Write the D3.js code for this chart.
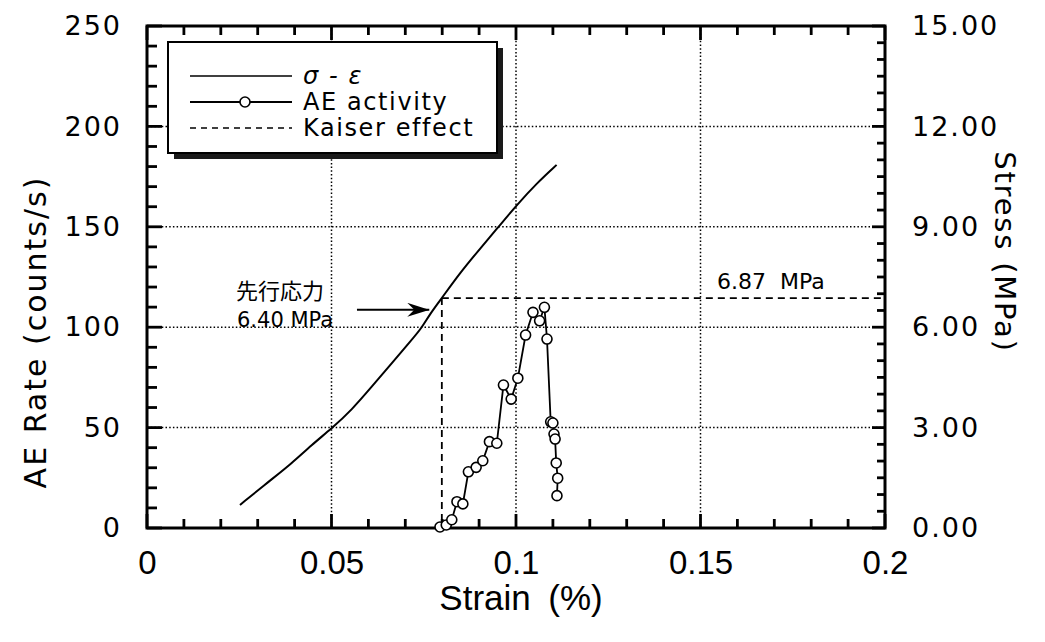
<!DOCTYPE html>
<html><head><meta charset="utf-8">
<script src="https://cdn.jsdelivr.net/npm/d3@7"></script>
<style>
html,body{margin:0;padding:0;background:#fff;}
svg{display:block;}
text{fill:#000;}
</style></head>
<body><svg id="c" width="1045" height="642"></svg>
<script>
// ---- data ----
const stressStrain = [0.0252,0.0329,0.0392,0.0446,0.0501,0.0555,0.0609,0.0663,0.0717,0.0744,0.0767,0.0799,0.0848,0.0902,0.0952,0.1002,0.1056,0.1110];
const stressValues = [0.69,1.38,1.93,2.48,2.98,3.53,4.22,4.92,5.62,5.97,6.40,6.87,7.62,8.34,8.99,9.65,10.30,10.85];
const aeStrain = [0.0794,0.0811,0.0826,0.0840,0.0856,0.0871,0.0892,0.0910,0.0928,0.0948,0.0966,0.0987,0.1005,0.1026,0.1046,0.1064,0.1077,0.1084,0.1094,0.1100,0.1103,0.1106,0.1109,0.1113,0.1111];
const aeRate = [0.5,1.5,4.1,13.1,12.0,28.0,30.2,33.5,43.0,42.2,71.2,64.2,74.6,96.1,107.4,103.2,109.9,94.1,52.9,52.3,46.8,44.3,32.4,24.8,16.1];
const xTicks = [0,0.05,0.1,0.15,0.2];
const xTickLabels = ["0","0.05","0.1","0.15","0.2"];
const leftTicks = [0,50,100,150,200,250];
const rightTicks = [0,3,6,9,12,15];
const rightTickLabels = ["0.00","3.00","6.00","9.00","12.00","15.00"];
const kaiserStrain = 0.0799, kaiserStress = 6.87;
const preStress = 6.40, preArrowFrom = 0.0569, preArrowTo = 0.0765;

// ---- layout ----
const L=147, T=26, R=885, B=528;
const svg = d3.select("#c");
const x = d3.scaleLinear().domain([0,0.2]).range([L,R]);
const yL = d3.scaleLinear().domain([0,250]).range([B,T]);
const yR = d3.scaleLinear().domain([0,15]).range([B,T]);

// gridlines
const grid = svg.append("g").attr("stroke","#000").attr("stroke-width",1.5).attr("stroke-dasharray","1.5,2.2");
[0.05,0.1,0.15].forEach(v=>grid.append("line").attr("x1",x(v)).attr("x2",x(v)).attr("y1",T).attr("y2",B));
[50,100,150,200].forEach(v=>grid.append("line").attr("y1",yL(v)).attr("y2",yL(v)).attr("x1",L).attr("x2",R));

// ticks (inward), drawn from the scales
const isMajor = (arr,d)=>arr.some(m=>Math.abs(m-d)<1e-9);
const xMinor = d3.range(0,21).map(i=>i/100);
const lMinor = d3.range(0,26).map(i=>i*10);
const rMinor = d3.range(0,31).map(i=>i*0.5);
const tk = svg.append("g").attr("stroke","#000").attr("stroke-width",2.8);
xMinor.forEach(v=>{
  const len = isMajor(xTicks,v)?14:9;
  tk.append("line").attr("x1",x(v)).attr("x2",x(v)).attr("y1",B).attr("y2",B-len);
  tk.append("line").attr("x1",x(v)).attr("x2",x(v)).attr("y1",T).attr("y2",T+len);
});
lMinor.forEach(v=>{
  const len = isMajor(leftTicks,v)?15:10;
  tk.append("line").attr("y1",yL(v)).attr("y2",yL(v)).attr("x1",L).attr("x2",L+len);
});
rMinor.forEach(v=>{
  const len = isMajor(rightTicks,v)?13:8;
  tk.append("line").attr("y1",yR(v)).attr("y2",yR(v)).attr("x1",R).attr("x2",R-len);
});

// frame
svg.append("rect").attr("x",L).attr("y",T).attr("width",R-L).attr("height",B-T)
  .attr("fill","none").attr("stroke","#000").attr("stroke-width",3);

// tick labels
const gx=svg.append("g").attr("transform",`translate(0,${B})`)
  .call(d3.axisBottom(x).tickValues(xTicks).tickSize(0).tickPadding(23).tickFormat((d,i)=>xTickLabels[i]));
gx.select(".domain").remove();
gx.selectAll("text").attr("font-family","'Liberation Sans',Arial,sans-serif").attr("font-size",33).attr("fill","#000");

const gl=svg.append("g").attr("transform",`translate(${L},0)`)
  .call(d3.axisLeft(yL).tickValues(leftTicks).tickSize(0).tickPadding(25).tickFormat(d3.format("d")));
gl.select(".domain").remove();
gl.selectAll("text").attr("font-family","'DejaVu Sans',sans-serif").attr("font-size",27).attr("letter-spacing",2).attr("fill","#000");

const gr=svg.append("g").attr("transform",`translate(${R},0)`)
  .call(d3.axisRight(yR).tickValues(rightTicks).tickSize(0).tickPadding(27).tickFormat((d,i)=>rightTickLabels[i]));
gr.select(".domain").remove();
gr.selectAll("text").attr("font-family","'DejaVu Sans',sans-serif").attr("font-size",27).attr("letter-spacing",2).attr("fill","#000");

// axis titles
svg.append("text").attr("x",521).attr("y",610).attr("text-anchor","middle")
  .attr("font-family","'Liberation Sans',Arial,sans-serif").attr("font-size",35)
  .text("Strain\u2002(%)");
svg.append("text").attr("transform",`translate(46,${(T+B)/2+55}) rotate(-90)`).attr("text-anchor","middle")
  .attr("font-family","'DejaVu Sans',sans-serif").attr("font-size",30).attr("letter-spacing",2)
  .text("AE Rate (counts/s)");
svg.append("text").attr("transform",`translate(995,${(T+B)/2-25}) rotate(90)`).attr("text-anchor","middle")
  .attr("font-family","'DejaVu Sans',sans-serif").attr("font-size",29).attr("letter-spacing",1.8)
  .text("Stress (MPa)");

// Kaiser effect dashed lines
const kd = svg.append("g").attr("stroke","#000").attr("stroke-width",1.8).attr("stroke-dasharray","7,5").attr("fill","none");
kd.append("line").attr("x1",x(kaiserStrain)).attr("x2",R).attr("y1",yR(kaiserStress)).attr("y2",yR(kaiserStress));
kd.append("line").attr("x1",x(kaiserStrain)).attr("x2",x(kaiserStrain)).attr("y1",yR(kaiserStress)).attr("y2",B);

// stress-strain curve
const sData = stressStrain.map((s,i)=>[s,stressValues[i]]);
svg.append("path").datum(sData).attr("fill","none").attr("stroke","#000").attr("stroke-width",2)
  .attr("d",d3.line().x(d=>x(d[0])).y(d=>yR(d[1])).curve(d3.curveBasis));

// AE activity
const aData = aeStrain.map((s,i)=>[s,aeRate[i]]);
svg.append("path").datum(aData).attr("fill","none").attr("stroke","#000").attr("stroke-width",1.8)
  .attr("d",d3.line().x(d=>x(d[0])).y(d=>yL(d[1])));
svg.append("g").selectAll("circle").data(aData).join("circle")
  .attr("cx",d=>x(d[0])).attr("cy",d=>yL(d[1])).attr("r",5)
  .attr("fill","#fff").attr("stroke","#000").attr("stroke-width",1.6);

// annotation arrow
svg.append("defs").append("marker").attr("id","ah").attr("viewBox","0 0 22 14").attr("refX",22).attr("refY",7)
  .attr("markerWidth",22).attr("markerHeight",14).attr("markerUnits","userSpaceOnUse").attr("orient","auto")
  .append("path").attr("d","M0,0 L22,7 L0,14 L7,7 Z").attr("fill","#000");
svg.append("line").attr("x1",x(preArrowFrom)).attr("x2",x(preArrowTo)).attr("y1",yR(preStress)-4).attr("y2",yR(preStress)-4)
  .attr("stroke","#000").attr("stroke-width",2).attr("marker-end","url(#ah)");
svg.append("text").attr("x",236).attr("y",299).attr("font-family","'Noto Sans CJK JP',sans-serif").attr("font-size",22).text("先行応力");
svg.append("text").attr("x",237).attr("y",327).attr("font-family","'DejaVu Sans',sans-serif").attr("font-size",21).text("6.40 MPa");
svg.append("text").attr("x",717).attr("y",289).attr("font-family","'DejaVu Sans',sans-serif").attr("font-size",22)
  .text("6.87\u00a0\u00a0MPa");

// legend
const lg = svg.append("g");
lg.append("rect").attr("x",174).attr("y",48).attr("width",329).attr("height",111).attr("fill","#1a1a1a");
lg.append("rect").attr("x",168).attr("y",42).attr("width",329).attr("height",111).attr("fill","#fff").attr("stroke","#000").attr("stroke-width",2);
const lx1=190, lx2=292, tx=303;
lg.append("line").attr("x1",lx1).attr("x2",lx2).attr("y1",76).attr("y2",76).attr("stroke","#000").attr("stroke-width",1.5);
lg.append("line").attr("x1",lx1).attr("x2",lx2).attr("y1",102).attr("y2",102).attr("stroke","#000").attr("stroke-width",2);
lg.append("circle").attr("cx",(lx1+lx2)/2+4).attr("cy",102).attr("r",5).attr("fill","#fff").attr("stroke","#000").attr("stroke-width",1.6);
lg.append("line").attr("x1",lx1).attr("x2",lx2).attr("y1",128).attr("y2",128).attr("stroke","#000").attr("stroke-width",1.6).attr("stroke-dasharray","6,5");
const lt = (y,t,it)=>lg.append("text").attr("x",tx).attr("y",y).attr("font-family","'DejaVu Sans',sans-serif")
  .attr("font-size",24).attr("letter-spacing",1.6).attr("font-style",it?"italic":"normal").text(t);
lt(84,"σ - ε",true);
lt(110,"AE activity",false);
lt(136,"Kaiser effect",false);
</script></body></html>
